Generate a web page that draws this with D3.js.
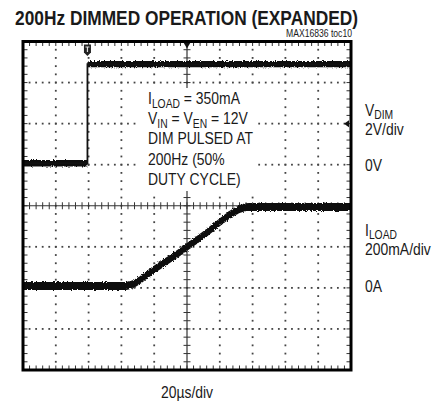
<!DOCTYPE html>
<html><head><meta charset="utf-8">
<script src="https://cdn.jsdelivr.net/npm/d3@7/dist/d3.min.js"></script>
<style>
body{margin:0;background:#fff}
svg{display:block}
text{font-family:'Liberation Sans',Arial,sans-serif;fill:#1a1a1a}
</style>
</head><body>
<svg id="c" width="438" height="404"></svg>
<script>
// ---- data ----
const vdimTimeUs = [0, 39.3, 39.3, 200];
const vdimVolts  = [0.07, 0.07, 4.9, 4.9];
const iloadTimeUs = [0, 62, 66, 71, 76, 81.5, 91.6, 100.8, 112, 120, 128, 133, 138, 200];
const iloadAmps   = [0.009, 0.009, 0.015, 0.036, 0.066, 0.098, 0.152, 0.204, 0.269, 0.32, 0.366, 0.387, 0.394, 0.394];
const timeDomainUs = [0, 200];       // 10 div x 20us
const vdimDomainV = [6, -10];        // 8 div x 2V, 0V at 3rd grid line
const iloadDomainA = [1.2, -0.4];    // 8 div x 200mA, 0A at 6th grid line
const triggerLevelV = 2;
const titleText = "200Hz DIMMED OPERATION (EXPANDED)";
const figId = "MAX16836 toc10";
const noteLines = [["I","LOAD"," = 350mA"],["V","IN"," = V","EN"," = 12V"],["DIM PULSED AT"],["200Hz (50%"],["DUTY CYCLE)"]];
const vdimLabels = [["V","DIM"],["2V/div"],["0V"]];
const iloadLabels = [["I","LOAD"],["200mA/div"],["0A"]];
const timeLabel = "20\u00b5s/div";

// ---- layout ----
const svg = d3.select("#c");
const X0 = 23, X1 = 351, Y0 = 41.5, Y1 = 370;
const NARROW = 0.82;
const x = d3.scaleLinear().domain(timeDomainUs).range([X0, X1]);
const yDiv = d3.scaleLinear().domain([4, -4]).range([Y0, Y1]);
const yV = d3.scaleLinear().domain(vdimDomainV).range([Y0, Y1]);
const yI = d3.scaleLinear().domain(iloadDomainA).range([Y0, Y1]);

const defs = svg.append("defs");
const f = defs.append("filter").attr("id","rough").attr("x","-5%").attr("y","-20%").attr("width","110%").attr("height","140%");
f.append("feTurbulence").attr("type","fractalNoise").attr("baseFrequency","1.1 0.7").attr("numOctaves",2).attr("seed",3).attr("result","n");
f.append("feDisplacementMap").attr("in","SourceGraphic").attr("in2","n").attr("scale",3.5).attr("xChannelSelector","R").attr("yChannelSelector","G");

// grid
const xMajor = d3.range(timeDomainUs[0], timeDomainUs[1] + 0.01, 20);
const xMinor = d3.range(timeDomainUs[0], timeDomainUs[1] + 0.01, 4);
const yMajor = d3.range(-4, 4.01, 1);
const yMinor = d3.range(-4, 4.01, 0.2);
const g = svg.append("g");
const dots = [];
xMajor.slice(1, -1).filter(t => t !== 100).forEach(t => yMinor.slice(1,-1).forEach(m => dots.push([x(t), yDiv(m)])));
yMajor.slice(1, -1).filter(d => d !== 0).forEach(d => xMinor.slice(1,-1).forEach(t => dots.push([x(t), yDiv(d)])));
g.selectAll("rect.dot").data(dots).join("rect").attr("class","dot")
  .attr("x", d => d[0]-0.9).attr("y", d => d[1]-0.9).attr("width",1.8).attr("height",1.8).attr("fill","#444");

// center axes with ticks
g.append("line").attr("x1",X0).attr("x2",X1).attr("y1",yDiv(0)).attr("y2",yDiv(0)).attr("stroke","#333").attr("stroke-width",1.2);
g.append("line").attr("x1",x(100)).attr("x2",x(100)).attr("y1",Y0).attr("y2",Y1).attr("stroke","#333").attr("stroke-width",1.2);
g.selectAll("line.ct").data(xMinor.slice(1,-1)).join("line").attr("class","ct")
  .attr("x1",d=>x(d)).attr("x2",d=>x(d)).attr("y1",yDiv(0)-3.5).attr("y2",yDiv(0)+3.5).attr("stroke","#333");
g.selectAll("line.cty").data(yMinor.slice(1,-1)).join("line").attr("class","cty")
  .attr("y1",d=>yDiv(d)).attr("y2",d=>yDiv(d)).attr("x1",x(100)-3.5).attr("x2",x(100)+3.5).attr("stroke","#333");
// frame edge ticks
g.selectAll("line.et").data(xMinor.slice(1,-1)).join("line").attr("class","et")
  .attr("x1",d=>x(d)).attr("x2",d=>x(d)).attr("y1",Y0).attr("y2",Y0+4.5).attr("stroke","#333");
g.selectAll("line.eb").data(xMinor.slice(1,-1)).join("line").attr("class","eb")
  .attr("x1",d=>x(d)).attr("x2",d=>x(d)).attr("y1",Y1-4.5).attr("y2",Y1).attr("stroke","#333");
g.selectAll("line.el").data(yMinor.slice(1,-1)).join("line").attr("class","el")
  .attr("y1",d=>yDiv(d)).attr("y2",d=>yDiv(d)).attr("x1",X0).attr("x2",X0+4.5).attr("stroke","#333");
g.selectAll("line.er").data(yMinor.slice(1,-1)).join("line").attr("class","er")
  .attr("y1",d=>yDiv(d)).attr("y2",d=>yDiv(d)).attr("x1",X1-4.5).attr("x2",X1).attr("stroke","#333");

// narrow text helper
function narrowText(px, py, parts, size, anchor){
  const gg = svg.append("g").attr("transform",`translate(${px},${py}) scale(${NARROW},1)`);
  const t = gg.append("text").attr("x",0).attr("y",0).attr("font-size",size).attr("text-anchor",anchor||"start");
  let shifted = false;
  parts.forEach((p,k)=>{
    const sub = parts.length > 1 && k % 2 === 1;
    const dy = sub ? 3.5 : (shifted ? -3.5 : 0);
    shifted = sub;
    t.append("tspan").text(p).attr("font-size", sub ? size*0.74 : size).attr("dy", dy);
  });
  return t;
}

// annotation box (hides grid)
svg.append("rect").attr("x",140).attr("y",88).attr("width",117).attr("height",103).attr("fill","#fff");
noteLines.forEach((parts, i) => narrowText(148, 104 + i*20.2, parts, 17));

// traces
const vData = vdimTimeUs.map((t,i)=>({t, v:vdimVolts[i]}));
const iData = iloadTimeUs.map((t,i)=>({t, v:iloadAmps[i]}));
const traces = svg.append("g").attr("filter","url(#rough)");
traces.append("path").datum(vData)
  .attr("d", d3.area().x(d=>x(d.t)).y0(d=>yV(d.v)-3.2).y1(d=>yV(d.v)+3.2))
  .attr("fill","#111");
traces.append("path").datum(iData)
  .attr("d", d3.area().curve(d3.curveMonotoneX).x(d=>x(d.t)).y0(d=>yI(d.v)-4).y1(d=>yI(d.v)+4))
  .attr("fill","#111");
svg.append("path").datum(vData)
  .attr("d", d3.line().x(d=>x(d.t)).y(d=>yV(d.v)))
  .attr("fill","none").attr("stroke","#111").attr("stroke-width",1.8);

// trigger markers
const tx = x(vdimTimeUs[1]);
svg.append("path").attr("d",`M${tx-3.5},${Y0+3} h7 v8 l-3.5,3.5 l-3.5,-3.5 z`).attr("fill","#222");
svg.append("path").attr("d",`M${tx-2},${Y0+5.5} h4 M${tx},${Y0+5.5} v5`).attr("stroke","#ddd").attr("stroke-width",1.2);
svg.append("path").attr("d",`M${x(100)-3.5},${Y0+1} h7 l-3.5,6 z`).attr("fill","#111");
svg.append("path").attr("d",`M${X1-2},${yV(triggerLevelV)-3.5} v7 l-5,-3.5 z`).attr("fill","#111");

// frame
svg.append("rect").attr("x",X0).attr("y",Y0).attr("width",X1-X0).attr("height",Y1-Y0)
  .attr("fill","none").attr("stroke","#000").attr("stroke-width",3);

// titles
svg.append("text").attr("x",15).attr("y",25).attr("font-size",21).attr("font-weight","bold")
  .attr("textLength",343).attr("lengthAdjust","spacingAndGlyphs").text(titleText);
narrowText(352, 37, [figId], 10.5, "end");

sideLabels = (arr, ys) => arr.forEach((parts,i)=>narrowText(365, ys[i], parts, 17));
sideLabels(vdimLabels, [115.5, 135, 171]);
sideLabels(iloadLabels, [235.5, 254.5, 292]);
narrowText(x(100), 398, [timeLabel], 17, "middle");
</script>
</body></html>
